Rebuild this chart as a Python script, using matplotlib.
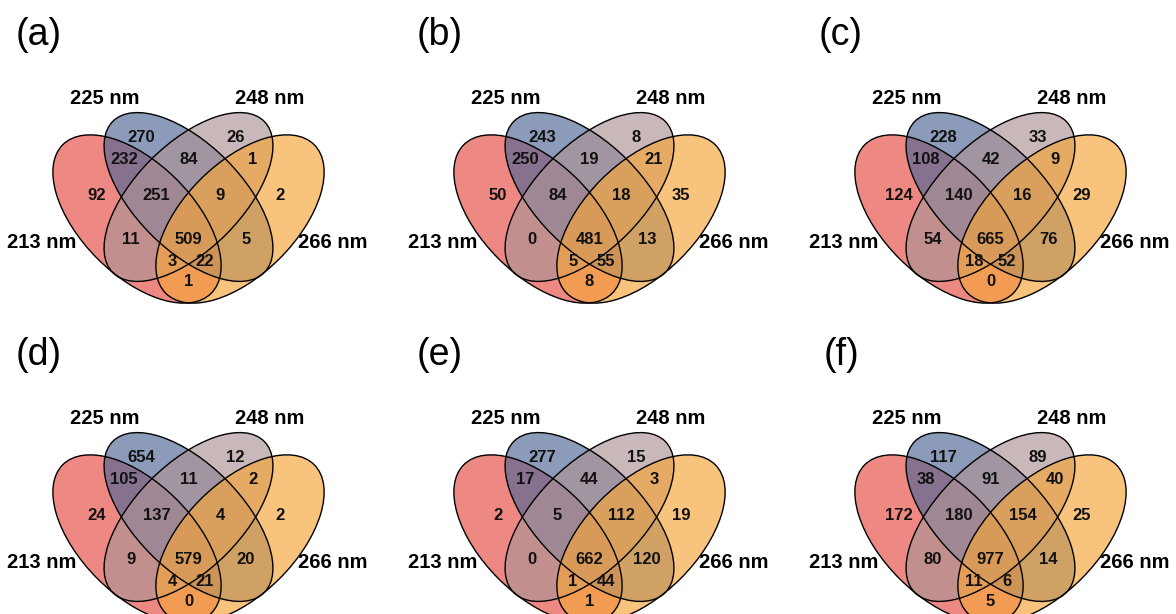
import matplotlib
matplotlib.use("Agg")
import matplotlib.pyplot as plt
from matplotlib.patches import Ellipse

# region order: A=213 nm, B=225 nm, C=248 nm, D=266 nm
regions = ['A', 'B', 'C', 'D', 'AB', 'BC', 'CD', 'ABC', 'BCD',
           'AC', 'ABCD', 'BD', 'ACD', 'ABD', 'AD']

panel_letters = ['(a)', '(b)', '(c)', '(d)', '(e)', '(f)']
counts_a = [92, 270, 26, 2, 232, 84, 1, 251, 9, 11, 509, 5, 3, 22, 1]
counts_b = [50, 243, 8, 35, 250, 19, 21, 84, 18, 0, 481, 13, 5, 55, 8]
counts_c = [124, 228, 33, 29, 108, 42, 9, 140, 16, 54, 665, 76, 18, 52, 0]
counts_d = [24, 654, 12, 2, 105, 11, 2, 137, 4, 9, 579, 20, 4, 21, 0]
counts_e = [2, 277, 15, 19, 17, 44, 3, 5, 112, 0, 662, 120, 1, 44, 1]
counts_f = [172, 117, 89, 25, 38, 91, 40, 180, 154, 80, 977, 14, 11, 6, 5]
all_counts = [counts_a, counts_b, counts_c, counts_d, counts_e, counts_f]

set_names = ['213 nm', '225 nm', '248 nm', '266 nm']
set_colors = ['#e44c42', '#516795', '#ad9396', '#f5a53a']

# layout of the four-set diagram (pixel-like units, centre of diagram at 0,0)
ell_specs = [((-51.5, 0), 105, 56, 135),
             ((0, 22), 107, 53, 135),
             ((0, 22), 107, 53, 45),
             ((51.5, 0), 105, 56, 45)]
label_pos = {'A': (-91.5, 24), 'B': (-47, 82), 'C': (47, 82), 'D': (91.5, 24),
             'AB': (-64.5, 59), 'BC': (0, 59), 'CD': (64.5, 59),
             'ABC': (-32, 24), 'BCD': (32, 24),
             'AC': (-57.5, -21), 'ABCD': (0, -21), 'BD': (57.5, -21),
             'ACD': (-16.5, -42), 'ABD': (16.5, -42), 'AD': (0, -63)}
name_pos = [(-146.5, -23), (-83.5, 121), (81.5, 121), (144.5, -23)]

plt.rcParams['font.family'] = ['Liberation Sans', 'DejaVu Sans']

W, H = 1176, 614
fig = plt.figure(figsize=(W / 100, H / 100), dpi=100)

col_off = [0, 401, 802]
row_off = [0, 320]

for i, counts in enumerate(all_counts):
    ox = col_off[i % 3]
    oy = row_off[i // 3]
    ax = fig.add_axes([ox / W, 1 - (oy + 320) / H, 400 / W, 320 / H])
    ax.set_xlim(-188.5, 211.5)
    ax.set_ylim(-101, 219)
    ax.axis('off')

    for (xy, a, b, ang), col in zip(ell_specs, set_colors):
        ax.add_patch(Ellipse(xy, 2 * a, 2 * b, angle=ang, facecolor=col,
                             alpha=0.66, edgecolor='none'))
    for (xy, a, b, ang) in ell_specs:
        ax.add_patch(Ellipse(xy, 2 * a, 2 * b, angle=ang, fill=False,
                             edgecolor='black', lw=1.0))

    for reg, val in zip(regions, counts):
        x, y = label_pos[reg]
        ax.text(x, y, str(val), ha='center', va='center', fontsize=12,
                fontweight='bold', color='#111111')

    for name, (x, y) in zip(set_names, name_pos):
        ax.text(x, y, name, ha='center', va='center', fontsize=14.5,
                fontweight='bold')

    ax.text(-149.5, 184, panel_letters[i], ha='center', va='center',
            fontsize=27, clip_on=False)

fig.savefig('out.png', dpi=100)
